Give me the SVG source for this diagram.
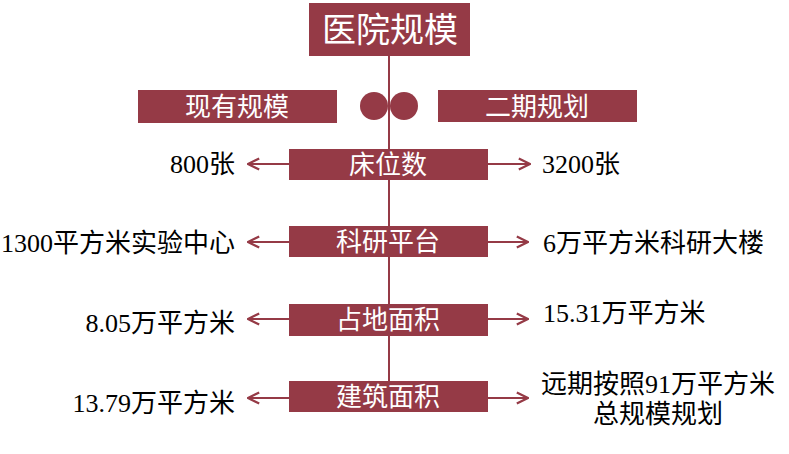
<svg xmlns="http://www.w3.org/2000/svg" width="789" height="454" viewBox="0 0 789 454">
<defs>
<style>
.box{fill:#953A46}
.bt{fill:#fff;font-family:"Liberation Serif","Noto Sans CJK SC",serif;text-anchor:middle}
.lb{fill:#000;font-family:"Liberation Serif","Noto Sans CJK SC",serif;font-size:26px}
.ln{stroke:#953A46;stroke-width:2;fill:none}
</style>
<marker id="ah" viewBox="0 0 10 10" refX="9" refY="5" markerWidth="14" markerHeight="14" markerUnits="userSpaceOnUse" orient="auto">
<path d="M1,1 L9,5 L1,9" fill="none" stroke="#953A46" stroke-width="1.6"/>
</marker>
</defs>
<rect width="789" height="454" fill="#fff"/>
<g id="connectors">
<line class="ln" x1="389" y1="56" x2="389" y2="381"/>
<line class="ln" x1="289" y1="164" x2="248" y2="164" marker-end="url(#ah)"/>
<line class="ln" x1="488" y1="164" x2="530" y2="164" marker-end="url(#ah)"/>
<line class="ln" x1="289" y1="242" x2="248" y2="242" marker-end="url(#ah)"/>
<line class="ln" x1="488" y1="242" x2="528" y2="242" marker-end="url(#ah)"/>
<line class="ln" x1="289" y1="319" x2="248" y2="319" marker-end="url(#ah)"/>
<line class="ln" x1="488" y1="319" x2="528" y2="319" marker-end="url(#ah)"/>
<line class="ln" x1="289" y1="398" x2="248" y2="398" marker-end="url(#ah)"/>
<line class="ln" x1="488" y1="398" x2="528" y2="398" marker-end="url(#ah)"/>
</g>
<g id="title">
<rect class="box" x="309" y="3" width="161" height="53"/>
<text class="bt" x="390" y="42" font-size="34">医院规模</text>
</g>
<g id="circles">
<circle class="box" cx="374" cy="106" r="14"/>
<circle class="box" cx="404" cy="106" r="14"/>
</g>
<g id="current">
<rect class="box" x="138" y="90" width="199" height="33"/>
<text class="bt" x="237" y="116" font-size="26">现有规模</text>
</g>
<g id="phase2">
<rect class="box" x="438" y="90" width="199" height="32"/>
<text class="bt" x="537" y="116" font-size="26">二期规划</text>
</g>
<g id="beds">
<rect class="box" x="289" y="149" width="199" height="31"/>
<text class="bt" x="388" y="174" font-size="26">床位数</text>
<text class="lb" x="235" y="173" text-anchor="end">800张</text>
<text class="lb" x="542" y="173">3200张</text>
</g>
<g id="research">
<rect class="box" x="289" y="226" width="199" height="31"/>
<text class="bt" x="388" y="251" font-size="26">科研平台</text>
<text class="lb" x="235" y="252" text-anchor="end">1300平方米实验中心</text>
<text class="lb" x="543" y="252">6万平方米科研大楼</text>
</g>
<g id="land">
<rect class="box" x="289" y="304" width="199" height="32"/>
<text class="bt" x="388" y="329" font-size="26">占地面积</text>
<text class="lb" x="235" y="332" text-anchor="end">8.05万平方米</text>
<text class="lb" x="543" y="322">15.31万平方米</text>
</g>
<g id="building">
<rect class="box" x="289" y="381" width="199" height="31"/>
<text class="bt" x="388" y="406" font-size="26">建筑面积</text>
<text class="lb" x="235" y="412" text-anchor="end">13.79万平方米</text>
<text class="lb" x="658" y="393" text-anchor="middle">远期按照91万平方米</text>
<text class="lb" x="658" y="423" text-anchor="middle">总规模规划</text>
</g>
</svg>
